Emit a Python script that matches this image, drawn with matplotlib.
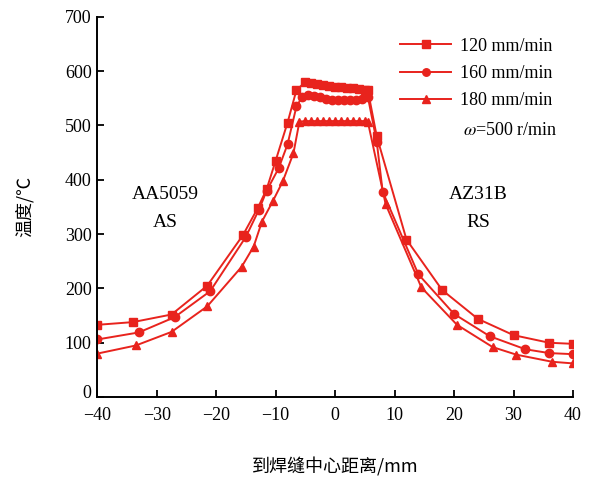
import matplotlib
matplotlib.use("Agg")
import matplotlib.pyplot as plt
import matplotlib.transforms as mtransforms

plt.rcParams['font.family'] = ['Liberation Serif', 'DejaVu Serif']
plt.rcParams['mathtext.fontset'] = 'stix'

# 120 mm/min (squares)
x_120 = [-40, -34, -27.5, -21.5, -15.5, -13, -11.5, -10, -8, -6.5, -5, -4, -3, -2, -1, 0, 1, 2, 3, 4, 5, 5.5, 7, 12, 18, 24, 30, 36, 40]
t_120 = [133, 138, 152, 205, 298, 348, 383, 435, 505, 565, 580, 578, 576, 574, 572, 571, 570, 569, 568, 567, 566, 565, 480, 290, 197, 144, 114, 100, 98]

# 160 mm/min (circles)
x_160 = [-40, -33, -27, -21, -15, -12.8, -11.5, -9.5, -8, -6.5, -5.5, -4.5, -3.5, -2.5, -1.5, -0.5, 0.5, 1.5, 2.5, 3.5, 4.5, 5.5, 7, 8, 14, 20, 26, 32, 36, 40]
t_160 = [106, 119, 147, 195, 295, 345, 380, 421, 465, 535, 553, 556, 554, 552, 549, 547, 546, 546, 546, 547, 548, 553, 470, 378, 226, 153, 112, 88, 81, 79]

# 180 mm/min (triangles)
x_180 = [-40, -33.5, -27.5, -21.5, -15.7, -13.7, -12.3, -10.5, -8.8, -7, -6, -5, -4, -3, -2, -1, 0, 1, 2, 3, 4, 5, 5.5, 8.5, 14.5, 20.5, 26.5, 30.5, 36.5, 40]
t_180 = [80, 95, 120, 167, 240, 277, 323, 360, 397, 449, 507, 508, 508, 508, 508, 508, 508, 508, 508, 508, 508, 508, 507, 355, 202, 133, 92, 78, 65, 62]

labels = ['120 mm/min', '160 mm/min', '180 mm/min']
x_ticks = [-40, -30, -20, -10, 0, 10, 20, 30, 40]
y_ticks = [0, 100, 200, 300, 400, 500, 600, 700]

red = '#e8231d'
cjk = ['Noto Sans CJK SC', 'DejaVu Sans']

fig = plt.figure(figsize=(6.0, 4.79), dpi=100)
ax = fig.add_axes([0.162, 0.171, 0.793, 0.794])

ax.plot(x_120, t_120, color=red, lw=1.4, marker='s', ms=6, label=labels[0])
ax.plot(x_160, t_160, color=red, lw=1.4, marker='o', ms=6, label=labels[1])
ax.plot(x_180, t_180, color=red, lw=1.4, marker='^', ms=6, label=labels[2])

ax.set_xlim(-40, 40)
ax.set_ylim(0, 700)
ax.set_xticks(x_ticks)
ax.set_yticks(y_ticks)
ax.tick_params(direction='in', length=5, width=1.3, labelsize=13)
ax.tick_params(axis='x', pad=7)
ax.tick_params(axis='y', pad=4)
for s in ['top', 'right']:
    ax.spines[s].set_visible(False)
for s in ['left', 'bottom']:
    ax.spines[s].set_linewidth(1.4)

# nudge the y "0" label up a bit, as in the reference
fig.canvas.draw()
ylab0 = ax.get_yticklabels()[0]
ylab0.set_transform(ylab0.get_transform() + mtransforms.ScaledTranslation(0, 4/72, fig.dpi_scale_trans))

ax.set_xlabel('到焊缝中心距离/mm', family=cjk, fontsize=13, labelpad=24)
ax.set_ylabel('温度/℃', family=cjk, fontsize=13, labelpad=22)

leg = ax.legend(loc='upper right', bbox_to_anchor=(1.0, 1.0), frameon=False,
                fontsize=13, handlelength=2.8, labelspacing=0.58, handletextpad=0.5,
                borderaxespad=0.75, markerscale=0.9)

ax.text(29.5, 490, r'$\omega$=500 r/min', fontsize=13, ha='center', va='center')
ax.text(-28.5, 372, 'AA5059', fontsize=14, ha='center', va='center')
ax.text(-28.5, 322, 'AS', fontsize=14, ha='center', va='center')
ax.text(24, 372, 'AZ31B', fontsize=14, ha='center', va='center')
ax.text(24, 322, 'RS', fontsize=14, ha='center', va='center')

fig.savefig('out.png', dpi=100)
